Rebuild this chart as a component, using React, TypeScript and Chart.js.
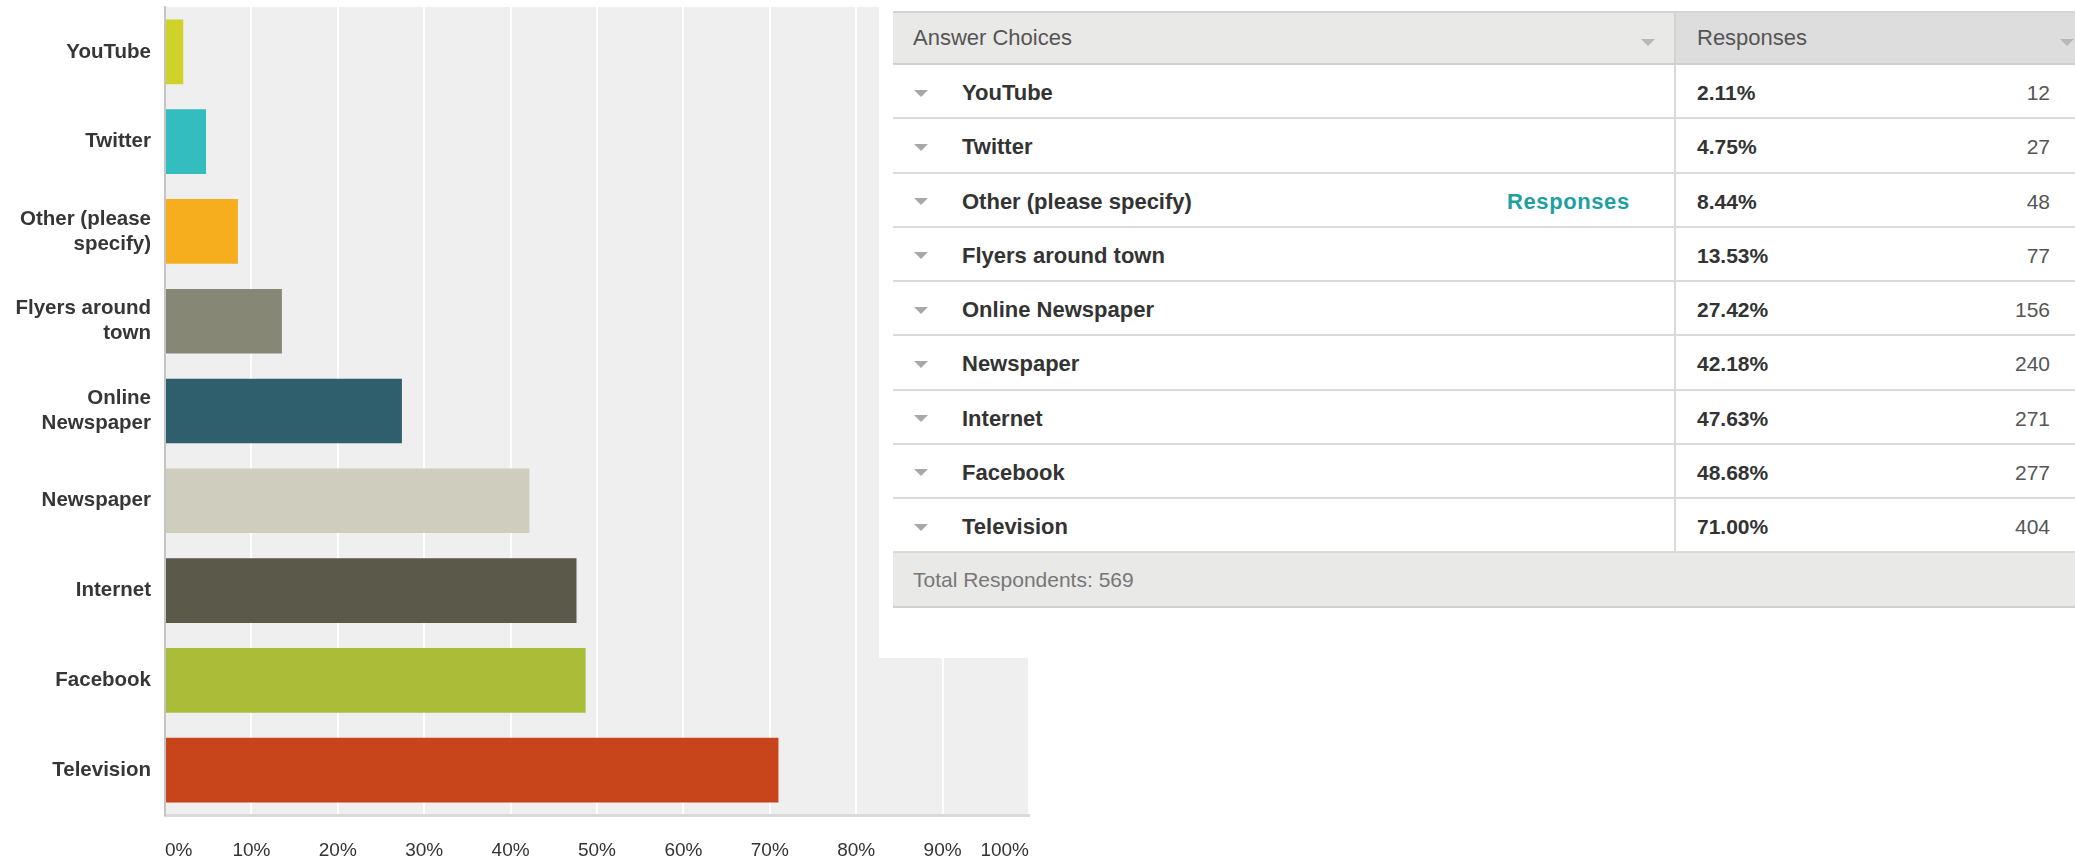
import React, { useEffect, useRef } from "react";
import { Chart, registerables } from "chart.js";

Chart.register(...registerables);

// ---- data ----
const categories = [
  "YouTube",
  "Twitter",
  "Other (please specify)",
  "Flyers around town",
  "Online Newspaper",
  "Newspaper",
  "Internet",
  "Facebook",
  "Television",
];
const axisLabels = [
  ["YouTube"],
  ["Twitter"],
  ["Other (please", "specify)"],
  ["Flyers around", "town"],
  ["Online", "Newspaper"],
  ["Newspaper"],
  ["Internet"],
  ["Facebook"],
  ["Television"],
];
const percentages = [2.11, 4.75, 8.44, 13.53, 27.42, 42.18, 47.63, 48.68, 71.0];
const counts = [12, 27, 48, 77, 156, 240, 271, 277, 404];
const barColors = [
  "#d0d22a",
  "#33bdbf",
  "#f6ae1f",
  "#878775",
  "#2f5e6c",
  "#cfcdbe",
  "#5b594a",
  "#aabc38",
  "#c8451b",
];
const xMin = 0;
const xMax = 100;
const xStep = 10;
const totalRespondents = 569;
const otherIndex = 2;

const FONT = '"Liberation Sans", Arial, Helvetica, sans-serif';

const plotBg = {
  id: "plotBg",
  beforeDraw(chart: any) {
    const { ctx, chartArea: a } = chart;
    ctx.save();
    ctx.fillStyle = "#efefef";
    ctx.fillRect(a.left, a.top, a.right - a.left, a.bottom - a.top);
    ctx.restore();
  },
};

function BarChart() {
  const ref = useRef<HTMLCanvasElement | null>(null);
  useEffect(() => {
    if (!ref.current) return;
    const chart = new Chart(ref.current, {
      type: "bar",
      data: {
        labels: axisLabels as any,
        datasets: [
          {
            data: percentages,
            backgroundColor: barColors,
            borderWidth: 0,
            categoryPercentage: 1,
            barPercentage: 0.72,
          },
        ],
      },
      options: {
        indexAxis: "y",
        animation: false,
        responsive: false,
        events: [],
        layout: { padding: { left: 0, right: 11, top: 7, bottom: 0 } },
        plugins: {
          legend: { display: false },
          tooltip: { enabled: false },
          title: { display: false },
        },
        scales: {
          x: {
            type: "linear",
            min: xMin,
            max: xMax,
            ticks: {
              stepSize: xStep,
              callback: (v: any) => v + "%",
              font: { family: FONT, size: 19 },
              color: "#333",
              padding: 24,
              align: "inner",
              maxRotation: 0,
            },
            grid: {
              color: (c: any) => (c.index === 0 ? "rgba(0,0,0,0)" : "#ffffff"),
              lineWidth: 2,
              drawTicks: false,
            },
            border: { display: true, color: "#dadada", width: 3 },
            afterFit: (s: any) => {
              s.height = 45;
              s.paddingLeft = 0;
              s.paddingRight = 0;
            },
          },
          y: {
            type: "category",
            ticks: {
              font: { family: FONT, size: 20.5, weight: "bold", lineHeight: 1.22 },
              color: "#363636",
              padding: 14,
            },
            grid: { color: "rgba(0,0,0,0)", drawTicks: false },
            border: { display: true, color: "#c4c4c4", width: 2 },
            afterFit: (s: any) => {
              s.width = 165;
              s.paddingTop = 0;
              s.paddingBottom = 0;
            },
          },
        },
      },
      plugins: [plotBg],
    } as any);
    return () => chart.destroy();
  }, []);
  return <canvas ref={ref} width={1040} height={860} style={{ position: "absolute", left: 0, top: 0 }} />;
}

function Arrow({ color }: { color: string }) {
  return (
    <span
      style={{
        display: "inline-block",
        width: 0,
        height: 0,
        borderLeft: "7.5px solid transparent",
        borderRight: "7.5px solid transparent",
        borderTop: "7px solid " + color,
      }}
    />
  );
}

const cell = (left: number, extra: React.CSSProperties = {}): React.CSSProperties => ({
  position: "absolute",
  left,
  top: 0,
  height: "100%",
  display: "flex",
  alignItems: "center",
  whiteSpace: "nowrap",
  ...extra,
});

const TABLE_LEFT = 893;
const TABLE_WIDTH = 2075 - TABLE_LEFT;
const COL_X = 781;
const HEADER_TOP = 11;
const HEADER_H = 54;
const ROW_H = 54.25;

function ResultsTable() {
  const rowsTop = HEADER_TOP + HEADER_H;
  const footerTop = rowsTop + ROW_H * categories.length;
  return (
    <div
      style={{
        position: "absolute",
        left: 879,
        top: 0,
        width: 2075 - 879,
        height: 658,
        background: "#ffffff",
        fontFamily: FONT,
      }}
    >
      <div style={{ position: "absolute", left: TABLE_LEFT - 879, top: 0, width: TABLE_WIDTH, height: 658 }}>
        {/* header */}
        <div
          style={{
            position: "absolute",
            left: 0,
            top: HEADER_TOP,
            width: TABLE_WIDTH,
            height: HEADER_H,
            boxSizing: "border-box",
            borderTop: "2px solid #d4d4d4",
            borderBottom: "2px solid #d0d0d0",
            background: "#e9e9e7",
          }}
        >
          <div
            style={{
              position: "absolute",
              left: COL_X,
              top: 0,
              right: 0,
              height: "100%",
              background: "#dddddd",
              borderLeft: "2px solid #d2d2d2",
            }}
          />
          <span style={cell(20, { fontSize: 22, color: "#555" })}>Answer Choices</span>
          <span style={cell(748, { paddingTop: 4 })}>
            <Arrow color="#b8b8b8" />
          </span>
          <span style={cell(804, { fontSize: 22, color: "#555" })}>Responses</span>
          <span style={cell(1167, { paddingTop: 4 })}>
            <Arrow color="#b8b8b8" />
          </span>
        </div>
        {/* rows */}
        {categories.map((c, i) => (
          <div
            key={c}
            style={{
              position: "absolute",
              left: 0,
              top: rowsTop + i * ROW_H,
              width: TABLE_WIDTH,
              height: ROW_H,
              boxSizing: "border-box",
              borderBottom: "2px solid #dadada",
              background: "#ffffff",
              paddingTop: 2,
            }}
          >
            <div
              style={{
                position: "absolute",
                left: COL_X,
                top: 0,
                width: 2,
                height: "100%",
                background: "#dadada",
              }}
            />
            <span style={cell(21, { paddingTop: 2 })}>
              <Arrow color="#a8a8a8" />
            </span>
            <span style={cell(69, { fontSize: 22, fontWeight: "bold", color: "#333", paddingTop: 2 })}>{c}</span>
            {i === otherIndex && (
              <span
                style={cell(614, {
                  fontSize: 22,
                  fontWeight: "bold",
                  color: "#1f9fa1",
                  letterSpacing: 0.6,
                  paddingTop: 2,
                })}
              >
                Responses
              </span>
            )}
            <span style={cell(804, { fontSize: 21, fontWeight: "bold", color: "#333", paddingTop: 2 })}>
              {percentages[i].toFixed(2)}%
            </span>
            <span
              style={{
                position: "absolute",
                right: TABLE_WIDTH - 1157,
                top: 0,
                height: "100%",
                display: "flex",
                alignItems: "center",
                fontSize: 21,
                color: "#555",
                paddingTop: 2,
              }}
            >
              {counts[i]}
            </span>
          </div>
        ))}
        {/* footer */}
        <div
          style={{
            position: "absolute",
            left: 0,
            top: footerTop,
            width: TABLE_WIDTH,
            height: 54.5,
            boxSizing: "border-box",
            borderBottom: "2px solid #cfcfcf",
            background: "#e9e9e7",
          }}
        >
          <span style={cell(20, { fontSize: 21, color: "#777" })}>Total Respondents: {totalRespondents}</span>
        </div>
      </div>
    </div>
  );
}

export default function App() {
  return (
    <div
      style={{
        position: "fixed",
        left: 0,
        top: 0,
        width: 2075,
        height: 860,
        background: "#ffffff",
        overflow: "hidden",
      }}
    >
      <BarChart />
      <ResultsTable />
    </div>
  );
}
